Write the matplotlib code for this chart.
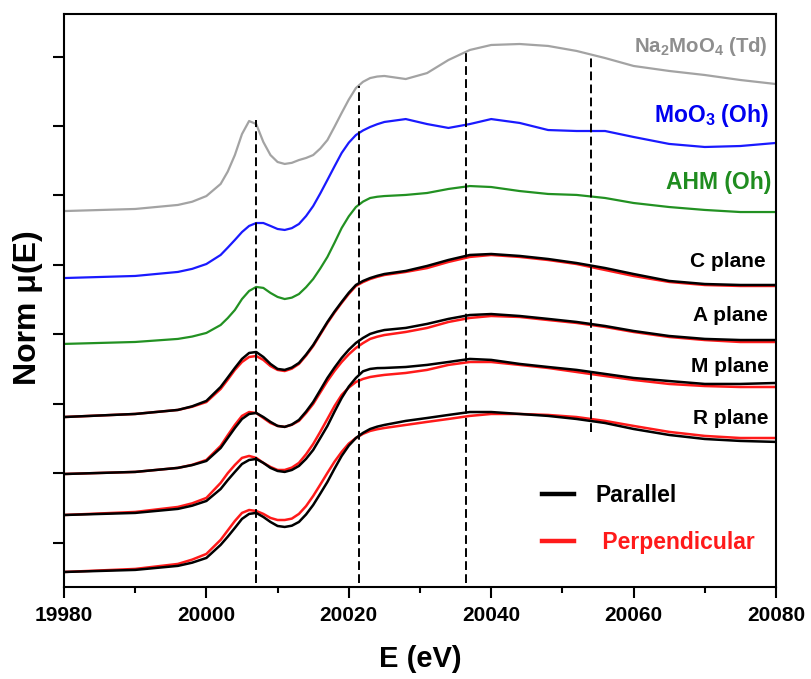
import matplotlib
matplotlib.use("Agg")
import matplotlib.pyplot as plt
from matplotlib.lines import Line2D
from matplotlib.ticker import MultipleLocator

# energy grid (eV) shared by all spectra
energy = [19980, 19990, 19996, 19998, 20000, 20002, 20003, 20004, 20005, 20006,
          20007, 20008, 20009, 20010, 20011, 20012, 20013, 20014, 20015, 20016,
          20017, 20018, 20019, 20020, 20021, 20022, 20023, 20024, 20025, 20028,
          20031, 20034, 20037, 20040, 20044, 20048, 20052, 20056, 20060, 20065,
          20070, 20075, 20080]

# stacked normalised absorption (offset already included)
na2moo4 = [2.388, 2.403, 2.432, 2.455, 2.496, 2.583, 2.672, 2.791, 2.942, 3.036,
           3.014, 2.885, 2.791, 2.741, 2.727, 2.735, 2.755, 2.770, 2.791, 2.838,
           2.899, 2.995, 3.094, 3.190, 3.273, 3.318, 3.345, 3.356, 3.360, 3.338,
           3.381, 3.475, 3.547, 3.583, 3.590, 3.576, 3.540, 3.489, 3.432, 3.396,
           3.367, 3.331, 3.302]
moo3 = [1.906, 1.921, 1.950, 1.972, 2.007, 2.072, 2.125, 2.180, 2.237, 2.281,
        2.302, 2.302, 2.281, 2.259, 2.252, 2.265, 2.295, 2.352, 2.424, 2.515,
        2.612, 2.710, 2.806, 2.880, 2.935, 2.968, 2.993, 3.013, 3.029, 3.050,
        3.014, 2.986, 3.014, 3.050, 3.022, 2.971, 2.964, 2.964, 2.921, 2.871,
        2.849, 2.856, 2.878]
ahm = [1.432, 1.446, 1.468, 1.485, 1.511, 1.568, 1.618, 1.676, 1.755, 1.813,
       1.842, 1.835, 1.799, 1.770, 1.755, 1.765, 1.791, 1.840, 1.899, 1.975,
       2.058, 2.160, 2.266, 2.350, 2.417, 2.456, 2.482, 2.491, 2.496, 2.504,
       2.518, 2.547, 2.568, 2.561, 2.532, 2.511, 2.504, 2.482, 2.446, 2.417,
       2.396, 2.381, 2.381]

c_par = [0.906, 0.928, 0.957, 0.983, 1.022, 1.122, 1.190, 1.259, 1.324, 1.367,
         1.374, 1.338, 1.288, 1.252, 1.245, 1.262, 1.295, 1.355, 1.424, 1.507,
         1.590, 1.665, 1.734, 1.800, 1.856, 1.885, 1.906, 1.922, 1.935, 1.957,
         1.993, 2.036, 2.072, 2.079, 2.065, 2.043, 2.014, 1.978, 1.935, 1.885,
         1.863, 1.856, 1.856]
c_perp = [0.906, 0.928, 0.957, 0.980, 1.014, 1.108, 1.175, 1.245, 1.302, 1.338,
          1.345, 1.317, 1.273, 1.245, 1.237, 1.254, 1.288, 1.348, 1.417, 1.500,
          1.583, 1.658, 1.727, 1.792, 1.849, 1.877, 1.899, 1.915, 1.928, 1.950,
          1.978, 2.022, 2.058, 2.072, 2.058, 2.036, 2.007, 1.964, 1.921, 1.878,
          1.856, 1.849, 1.849]
a_par = [0.496, 0.511, 0.540, 0.560, 0.590, 0.683, 0.755, 0.827, 0.892, 0.928,
         0.935, 0.906, 0.871, 0.842, 0.835, 0.852, 0.885, 0.945, 1.014, 1.100,
         1.187, 1.262, 1.331, 1.390, 1.439, 1.475, 1.504, 1.520, 1.532, 1.547,
         1.576, 1.612, 1.640, 1.647, 1.633, 1.612, 1.590, 1.561, 1.525, 1.489,
         1.468, 1.460, 1.460]
a_perp = [0.496, 0.511, 0.540, 0.562, 0.597, 0.698, 0.775, 0.849, 0.914, 0.942,
          0.935, 0.899, 0.863, 0.842, 0.835, 0.850, 0.878, 0.935, 1.000, 1.083,
          1.165, 1.238, 1.302, 1.357, 1.403, 1.438, 1.468, 1.484, 1.496, 1.518,
          1.547, 1.590, 1.619, 1.633, 1.626, 1.604, 1.583, 1.554, 1.518, 1.482,
          1.460, 1.446, 1.446]
m_par = [0.201, 0.216, 0.245, 0.268, 0.302, 0.388, 0.452, 0.511, 0.568, 0.597,
         0.604, 0.576, 0.540, 0.518, 0.511, 0.525, 0.554, 0.605, 0.669, 0.755,
         0.842, 0.945, 1.043, 1.125, 1.187, 1.235, 1.252, 1.258, 1.259, 1.266,
         1.281, 1.302, 1.324, 1.317, 1.288, 1.266, 1.245, 1.216, 1.187, 1.165,
         1.144, 1.144, 1.151]
m_perp = [0.201, 0.223, 0.259, 0.285, 0.324, 0.432, 0.502, 0.561, 0.612, 0.626,
          0.612, 0.576, 0.547, 0.525, 0.525, 0.542, 0.576, 0.638, 0.712, 0.800,
          0.892, 0.985, 1.065, 1.118, 1.158, 1.180, 1.194, 1.202, 1.209, 1.223,
          1.245, 1.281, 1.302, 1.302, 1.281, 1.259, 1.230, 1.201, 1.173, 1.144,
          1.129, 1.122, 1.122]
r_par = [-0.209, -0.194, -0.165, -0.142, -0.108, -0.014, 0.045, 0.108, 0.173, 0.209,
         0.216, 0.187, 0.151, 0.122, 0.115, 0.124, 0.151, 0.205, 0.273, 0.355,
         0.439, 0.535, 0.626, 0.700, 0.755, 0.792, 0.820, 0.837, 0.849, 0.878,
         0.899, 0.921, 0.942, 0.942, 0.928, 0.914, 0.892, 0.863, 0.820, 0.777,
         0.748, 0.734, 0.727]
r_perp = [-0.209, -0.187, -0.151, -0.120, -0.079, 0.022, 0.090, 0.158, 0.216, 0.237,
          0.230, 0.209, 0.180, 0.165, 0.165, 0.175, 0.209, 0.265, 0.338, 0.420,
          0.504, 0.585, 0.655, 0.715, 0.755, 0.785, 0.806, 0.818, 0.827, 0.849,
          0.871, 0.892, 0.914, 0.928, 0.928, 0.921, 0.906, 0.878, 0.842, 0.799,
          0.770, 0.755, 0.755]

# reference energies marked with dashed lines, with their vertical extent
marker_energy = [20007, 20021.5, 20036.5, 20054]
marker_top = [3.04, 3.29, 3.53, 3.50]
marker_bottom = [-0.29, -0.29, -0.29, 0.80]

# curve labels: text, colour, size, baseline height
label_text = [r"Na$_2$MoO$_4$ (Td)", r"MoO$_3$ (Oh)", "AHM (Oh)",
              "C plane", "A plane", "M plane", "R plane"]
label_color = ["#8e8e8e", "#0000f0", "#1f8c1f", "black", "black", "black", "black"]
label_size = [14.7, 16.5, 16.5, 15, 15, 15, 15]
label_y = [3.532, 3.029, 2.547, 1.986, 1.597, 1.230, 0.856]
label_x = [20078.9, 20079.0, 20079.3, 20078.5, 20078.9, 20079.0, 20078.9]


def plot(out_path):
    plt.rcParams["font.family"] = ["Liberation Sans", "DejaVu Sans"]
    plt.rcParams["font.weight"] = "bold"
    plt.rcParams["mathtext.fontset"] = "custom"
    plt.rcParams["mathtext.rm"] = "Liberation Sans:bold"
    plt.rcParams["mathtext.bf"] = "Liberation Sans:bold"
    plt.rcParams["mathtext.default"] = "bf"

    fig = plt.figure(figsize=(8.11, 6.79), dpi=100)
    ax = fig.add_axes([0.0789, 0.1355, 0.8779, 0.8439])

    lw = 1.6
    ax.plot(energy, na2moo4, color="#a3a3a3", lw=lw)
    ax.plot(energy, moo3, color="#1a1aff", lw=lw)
    ax.plot(energy, ahm, color="#229122", lw=lw)

    for par, perp in [(c_par, c_perp), (a_par, a_perp), (m_par, m_perp), (r_par, r_perp)]:
        ax.plot(energy, perp, color="#ff1a1a", lw=1.8)
        ax.plot(energy, par, color="black", lw=1.8)

    ax.vlines(marker_energy, marker_bottom, marker_top, colors="black",
              linestyles=(0, (4.5, 2.2)), lw=1.4)

    for txt, col, size, y, x in zip(label_text, label_color, label_size, label_y, label_x):
        ax.text(x, y, txt, color=col, ha="right", va="baseline", fontsize=size,
                fontweight="bold")

    handles = [Line2D([], [], color="black", lw=3.2),
               Line2D([], [], color="#ff1a1a", lw=3.2)]
    leg = ax.legend(handles, ["Parallel", " Perpendicular"], loc="center left",
                    bbox_to_anchor=(0.671, 0.118), frameon=False, fontsize=16.5,
                    handlelength=1.4, handletextpad=0.96, labelspacing=1.05,
                    borderpad=0, borderaxespad=0)
    leg.get_texts()[1].set_color("#ff1a1a")

    ax.set_xlim(19980, 20080)
    ax.set_ylim(-0.317, 3.806)
    ax.xaxis.set_major_locator(MultipleLocator(20))
    ax.xaxis.set_minor_locator(MultipleLocator(10))
    ax.set_yticks([0, 0.5, 1.0, 1.5, 2.0, 2.5, 3.0, 3.5])
    ax.set_yticklabels([])

    ax.tick_params(which="major", direction="out", length=8, width=1.5,
                   labelsize=15, pad=6)
    ax.tick_params(which="minor", direction="out", length=4.5, width=1.5)
    ax.tick_params(top=False, right=False)
    for spine in ax.spines.values():
        spine.set_linewidth(1.5)

    ax.set_xlabel("E (eV)", fontsize=21, fontweight="bold", labelpad=14)
    ax.set_ylabel("Norm μ(E)", fontsize=23, fontweight="bold")
    ax.yaxis.set_label_coords(-0.03, 0.487)

    fig.savefig(out_path, dpi=100)
    plt.close(fig)


def main():
    plot("out.png")


if __name__ == "__main__":
    main()
